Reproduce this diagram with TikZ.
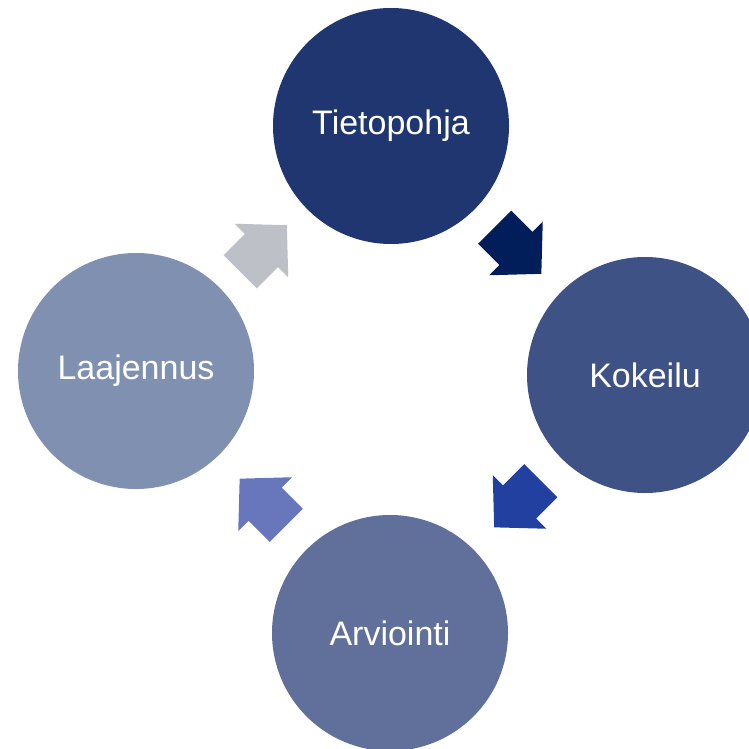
\documentclass[tikz,border=0pt]{standalone}
\usepackage{fontspec}
\setmainfont{Liberation Sans}
\usepackage{tikz}
\usetikzlibrary{calc, positioning}
\definecolor{stepone}{RGB}{31,54,113}
\definecolor{steptwo}{RGB}{62,82,133}
\definecolor{stepthree}{RGB}{96,112,154}
\definecolor{stepfour}{RGB}{128,144,176}
\definecolor{arrowone}{RGB}{2,30,90}
\definecolor{arrowtwo}{RGB}{33,64,160}
\definecolor{arrowthree}{RGB}{104,118,188}
\definecolor{arrowfour}{RGB}{190,192,200}

\tikzset{
  phase/.style={circle, draw=none, minimum size=236pt, inner sep=0pt, text=white,
    font=\fontsize{34}{40}\selectfont},
}

\begin{document}
\begin{tikzpicture}[x=1pt, y=-1pt]
\useasboundingbox (0,0) rectangle (749,749);
\node[phase, fill=stepone] (tieto) at (391,126) {Tietopohja};
\node[phase, fill=steptwo] (kokeilu) at (645,375) {Kokeilu};
\node[phase, fill=stepthree] (arvio) at (390,633) {Arviointi};
\node[phase, fill=stepfour] (laaj) at (136,371) {Laajennus};

% block arrows between the phases
\foreach \from/\to/\ang/\col in {tieto/kokeilu/-45/arrowone, kokeilu/arvio/-135/arrowtwo,
    arvio/laaj/135/arrowthree, laaj/tieto/45/arrowfour}
  \fill[\col, shift={($(\from)!0.5!(\to)$)}, rotate=\ang]
    (-33,-23.5) -- (-3,-23.5) -- (-3,-38) -- (33,0) -- (-3,38) -- (-3,23.5) -- (-33,23.5) -- cycle;
\end{tikzpicture}
\end{document}
